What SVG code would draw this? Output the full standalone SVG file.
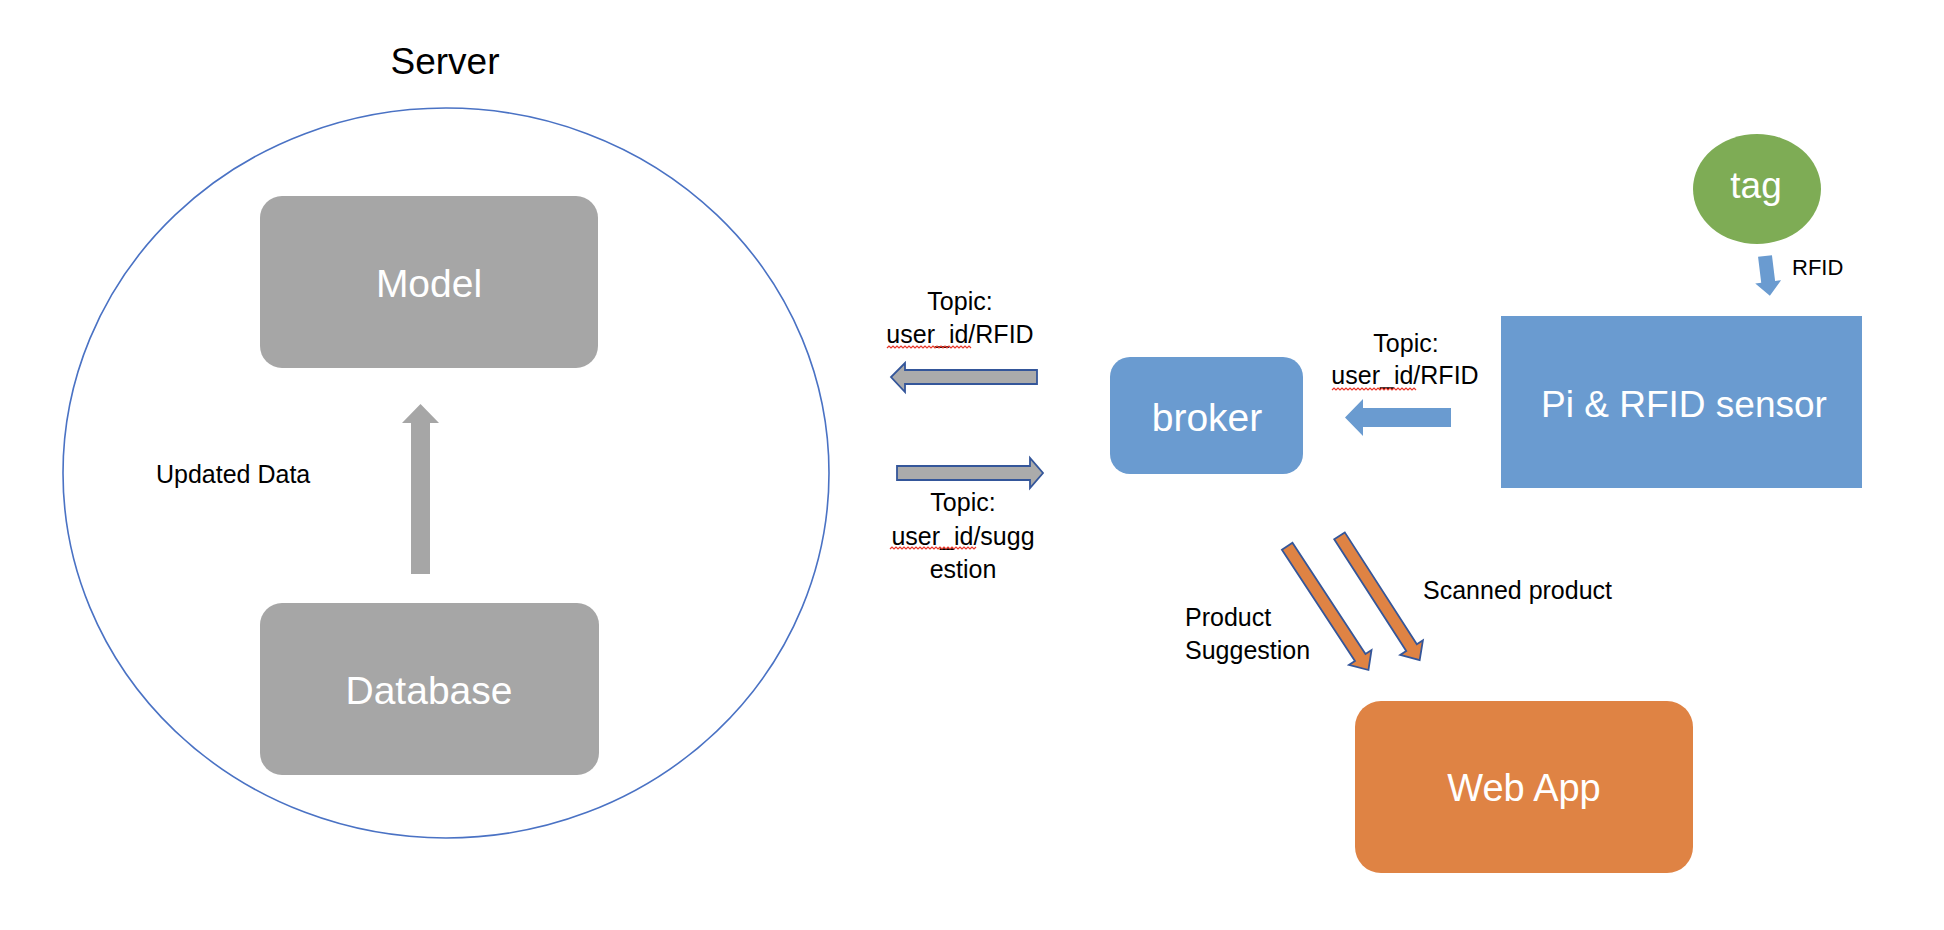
<svg xmlns="http://www.w3.org/2000/svg" width="1944" height="930" viewBox="0 0 1944 930">
<style>
.lbl{font-family:"Liberation Sans",Arial,sans-serif;font-size:25px;fill:#000}
.big{font-family:"Liberation Sans",Arial,sans-serif;font-size:39px;fill:#fff;text-anchor:middle}
.mid{text-anchor:middle}
.gbox{fill:#A6A6A6}
.bbox{fill:#6A9BD0}
.garrow{fill:#ABABAB;stroke:#34569A;stroke-width:1.8}
.oarrow{fill:#DF8344;stroke:#34569A;stroke-width:1.8}
.squig{fill:none;stroke:#E8372A;stroke-width:1.2}
</style>
<rect width="1944" height="930" fill="#fff"/>

<g id="server">
  <ellipse cx="446" cy="473" rx="383" ry="365" fill="none" stroke="#4A72C4" stroke-width="1.6"/>
  <text class="lbl mid" x="445" y="74" style="font-size:37px">Server</text>
</g>

<g id="model">
  <rect class="gbox" x="260" y="196" width="338" height="172" rx="22"/>
  <text class="big" x="429" y="297">Model</text>
</g>

<g id="database">
  <rect class="gbox" x="260" y="603" width="339" height="172" rx="22"/>
  <text class="big" x="429" y="704">Database</text>
</g>

<g id="broker">
  <rect class="bbox" x="1110" y="357" width="193" height="117" rx="20"/>
  <text class="big" x="1207" y="431">broker</text>
</g>

<g id="pi">
  <rect class="bbox" x="1501" y="316" width="361" height="172"/>
  <text class="big" x="1684" y="417" style="font-size:37px">Pi &amp; RFID sensor</text>
</g>

<g id="tag">
  <ellipse cx="1757" cy="189" rx="64" ry="55" fill="#7EAC55"/>
  <text class="big" x="1756" y="198" style="font-size:37px">tag</text>
</g>

<g id="webapp">
  <rect x="1355" y="701" width="338" height="172" rx="26" fill="#DF8344"/>
  <text class="big" x="1524" y="801" style="font-size:38px">Web App</text>
</g>

<g id="connectors">
  <!-- Database -> Model -->
  <polygon fill="#A6A6A6" points="411,574 411,423 402,423 420.5,404 439,423 430,423 430,574"/>
  <!-- broker -> Server (upper, left pointing) -->
  <polygon class="garrow" points="1037,370 905,370 905,363 891,377 905,392 905,384 1037,384"/>
  <!-- Server -> broker (lower, right pointing) -->
  <polygon class="garrow" points="897,466 1030,466 1030,458 1043,473 1030,488 1030,480 897,480"/>
  <!-- Pi -> broker -->
  <polygon fill="#6A9BD0" points="1451,408 1363,408 1363,399 1345,417.5 1363,436 1363,427 1451,427"/>
  <!-- tag -> Pi -->
  <polygon fill="#6A9BD0" transform="translate(1765,256) rotate(-7)" points="-7,0 7,0 7,26 13,26 0,40 -13,26 -7,26"/>
  <!-- broker -> Web App (Product Suggestion) -->
  <polygon class="oarrow" transform="translate(1287.2,546.3) rotate(56.7)" points="0,-6.3 133,-6.3 133,-13.5 148,0 133,13.5 133,6.3 0,6.3"/>
  <!-- broker -> Web App (Scanned product) -->
  <polygon class="oarrow" transform="translate(1339.5,535.8) rotate(57.2)" points="0,-6.3 133,-6.3 133,-13.5 148,0 133,13.5 133,6.3 0,6.3"/>
</g>

<g id="labels">
  <text class="lbl" x="156" y="483">Updated Data</text>
  <text class="lbl mid" x="960" y="310">Topic:</text>
  <text class="lbl mid" x="960" y="343">user_id/RFID</text>
  <text class="lbl mid" x="963" y="511">Topic:</text>
  <text class="lbl mid" x="963" y="545">user_id/sugg</text>
  <text class="lbl mid" x="963" y="578">estion</text>
  <text class="lbl mid" x="1406" y="352">Topic:</text>
  <text class="lbl mid" x="1405" y="384">user_id/RFID</text>
  <text class="lbl" x="1792" y="275" style="font-size:22px">RFID</text>
  <text class="lbl" x="1185" y="626">Product</text>
  <text class="lbl" x="1185" y="659">Suggestion</text>
  <text class="lbl" x="1423" y="599">Scanned product</text>
</g>

<g id="spellcheck">
  <path class="squig" d="M887,348 l2,-2 l2,2 l2,-2 l2,2 l2,-2 l2,2 l2,-2 l2,2 l2,-2 l2,2 l2,-2 l2,2 l2,-2 l2,2 l2,-2 l2,2 l2,-2 l2,2 l2,-2 l2,2 l2,-2 l2,2 l2,-2 l2,2 l2,-2 l2,2 l2,-2 l2,2 l2,-2 l2,2 l2,-2 l2,2 l2,-2 l2,2 l2,-2 l2,2 l2,-2 l2,2 l2,-2 l2,2 l2,-2 l2,2"/>
  <path class="squig" d="M890,549 l2,-2 l2,2 l2,-2 l2,2 l2,-2 l2,2 l2,-2 l2,2 l2,-2 l2,2 l2,-2 l2,2 l2,-2 l2,2 l2,-2 l2,2 l2,-2 l2,2 l2,-2 l2,2 l2,-2 l2,2 l2,-2 l2,2 l2,-2 l2,2 l2,-2 l2,2 l2,-2 l2,2 l2,-2 l2,2 l2,-2 l2,2 l2,-2 l2,2 l2,-2 l2,2 l2,-2 l2,2 l2,-2 l2,2 l2,-2"/>
  <path class="squig" d="M1332,390 l2,-2 l2,2 l2,-2 l2,2 l2,-2 l2,2 l2,-2 l2,2 l2,-2 l2,2 l2,-2 l2,2 l2,-2 l2,2 l2,-2 l2,2 l2,-2 l2,2 l2,-2 l2,2 l2,-2 l2,2 l2,-2 l2,2 l2,-2 l2,2 l2,-2 l2,2 l2,-2 l2,2 l2,-2 l2,2 l2,-2 l2,2 l2,-2 l2,2 l2,-2 l2,2 l2,-2 l2,2 l2,-2 l2,2"/>
</g>
</svg>
